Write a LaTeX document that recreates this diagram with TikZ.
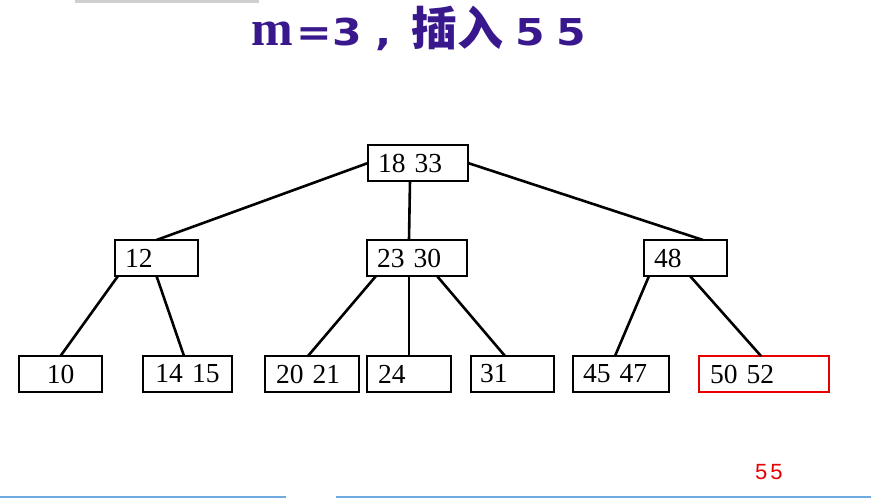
\documentclass[tikz,border=0pt]{standalone}
\usepackage{fontspec}
\setmainfont{Liberation Serif}
\newfontfamily\cjkfont{Noto Sans CJK SC}
\newfontfamily\titlesans{DejaVu Sans}[FakeStretch=1.15]
\newfontfamily\titleserif{Liberation Serif}
\newfontfamily\redsans{Liberation Sans}
\definecolor{titlepurple}{RGB}{56,24,140}
\definecolor{mark}{RGB}{230,0,0}
\definecolor{slideblue}{RGB}{110,170,225}
\definecolor{slidegray}{RGB}{175,175,175}
\tikzset{
  keybox/.style={draw, line width=2.6pt, anchor=north west, minimum height=36pt,
    inner xsep=10pt, inner ysep=0pt, outer sep=0pt, align=left,
    font=\fontsize{27.5}{30}\selectfont},
  redbox/.style={keybox, draw=mark},
  link/.style={line width=2.6pt},
}
\begin{document}
\begin{tikzpicture}[x=1pt,y=-1pt]
\useasboundingbox (0,0) rectangle (871,498);
% slide artefacts
\fill[slidegray!60] (75,0) rectangle (259,3);
\draw[slideblue, line width=1.6pt] (0,497) -- (286,497);
\draw[slideblue, line width=1.6pt] (336,497) -- (871,497);
% title
\node[anchor=base west, inner sep=0pt, text=titlepurple] (title) at (251,45)
  {{\titleserif\bfseries\fontsize{50}{52}\selectfont m}{\titlesans\bfseries\fontsize{37}{40}\selectfont\kern4pt=3\kern13pt,\kern20pt}{\cjkfont\bfseries\fontsize{46}{50}\selectfont 插入}{\titlesans\bfseries\fontsize{37}{40}\selectfont\kern12pt 5\kern12pt5}};
% nodes
\node[keybox, text width=80pt] (root) at (368,145) {18 33};
\node[keybox, text width=63pt] (n12) at (115,240) {12};
\node[keybox, text width=80pt] (n2330) at (367,240) {23 30};
\node[keybox, text width=63pt] (n48) at (644,240) {48};
\node[keybox, text width=63pt, align=center] (l10) at (19,356) {10};
\node[keybox, text width=69pt, align=center] (l1415) at (143,356) {14 15};
\node[keybox, inner xsep=11pt, text width=72pt] (l2021) at (265,356) {20 21};
\node[keybox, inner xsep=11pt, text width=62pt] (l24) at (367,356) {24};
\node[keybox, inner xsep=9pt, text width=65pt] (l31) at (471,356) {31};
\node[keybox, text width=76pt] (l4547) at (573,356) {45 47};
\node[redbox, inner xsep=11pt, text width=108pt] (l5052) at (699,356) {50 52};
% connectors
\draw[link] (root.west) -- (n12.north);
\draw[link] ([xshift=-8pt]root.south) -- ([xshift=-8pt]n2330.north);
\draw[link] (root.east) -- ([xshift=17.5pt]n48.north);
\draw[link] ([xshift=3pt]n12.south west) -- (l10.north);
\draw[link] (n12.south) -- ([xshift=41pt]l1415.north west);
\draw[link] ([xshift=9pt]n2330.south west) -- ([xshift=43pt]l2021.north west);
\draw[link] ([xshift=42pt]n2330.south west) -- ([xshift=42pt]l24.north west);
\draw[link] ([xshift=70pt]n2330.south west) -- ([xshift=34pt]l31.north west);
\draw[link] ([xshift=5pt]n48.south west) -- ([xshift=42pt]l4547.north west);
\draw[link] ([xshift=46pt]n48.south west) -- ([xshift=62pt]l5052.north west);
% inserted key
\node[anchor=base west, inner sep=0pt, text=mark, font=\redsans\fontsize{22}{24}\selectfont] (ins) at (755,479) {5\kern3pt5};
\end{tikzpicture}
\end{document}
